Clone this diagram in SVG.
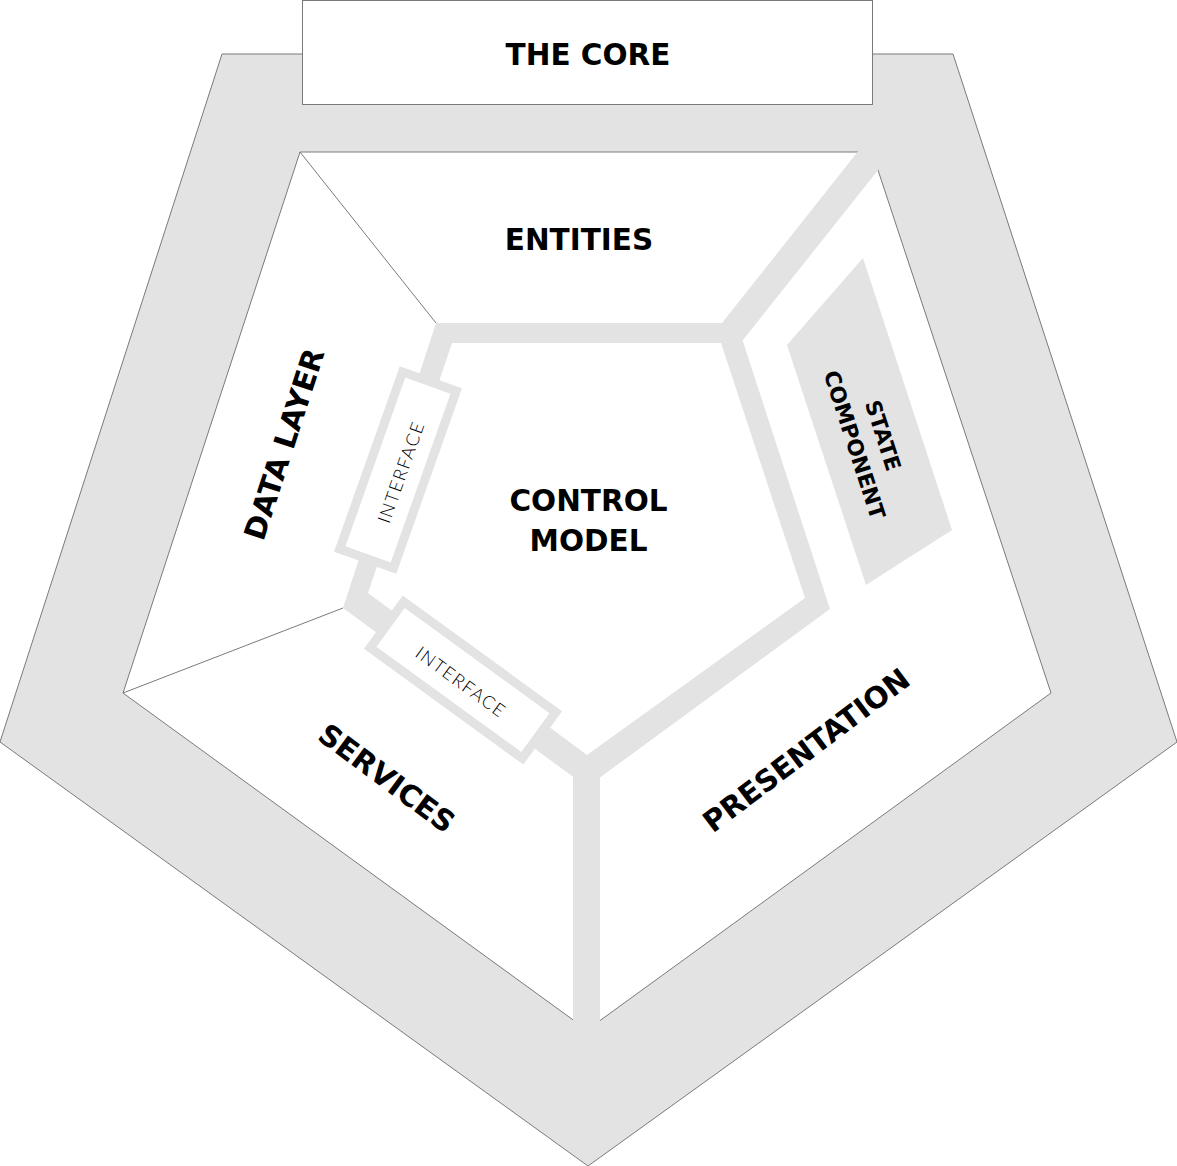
<svg xmlns="http://www.w3.org/2000/svg" width="1177" height="1166" viewBox="0 0 1177 1166">
<style>
.band{fill:#e3e3e3;stroke:#7a7a7a;stroke-width:1}
.inner{fill:#fff;stroke:#7a7a7a;stroke-width:1}
.thin{stroke:#7a7a7a;stroke-width:1;fill:none}
.grey{fill:#e3e3e3}
.iface{fill:#fff;stroke:#e3e3e3;stroke-width:9}
.lbl{font-family:"DejaVu Sans","Liberation Sans",sans-serif;font-weight:bold;font-size:29.5px;fill:#000;text-anchor:middle}
.sc{font-size:21.5px}
.small{font-family:Lato,"Open Sans",sans-serif;font-weight:300;font-size:18px;letter-spacing:1.5px;fill:#000;text-anchor:middle}
</style>
<rect width="1177" height="1166" fill="#fff"/>
<g id="outer-band">
<polygon class="band" points="222,54 953,54 1177,742 588,1166 0,742"/>
</g>
<g id="core">
<rect class="inner" x="302.5" y="0.5" width="570" height="104"/>
<text class="lbl" x="588" y="54" dy="0.36em" font-size="30">THE CORE</text>
</g>
<g id="layers-area">
<polygon class="inner" points="300,152 872,152 1051,693 587,1030 123,693"/>
</g>
<g id="connectors">
<line class="thin" x1="300" y1="152" x2="436" y2="323"/>
<line class="thin" x1="123" y1="693" x2="343" y2="608"/>
<polygon class="grey" points="722,323 867,140 902,140 743,340"/>
<rect class="grey" x="573" y="770" width="27" height="275"/>
</g>
<g id="control-model">
<path class="grey" fill-rule="evenodd" d="M436,323 L737,323 L830,609 L587,787 L343,608 Z M452,343 L368,593 L587,755 L805,598 L721,343 Z"/>
<text class="lbl" x="588.5" y="500" dy="0.36em">CONTROL</text>
<text class="lbl" x="588.5" y="540" dy="0.36em">MODEL</text>
</g>
<g id="interface-1">
<rect class="iface" x="-28.5" y="-94" width="57" height="188" transform="translate(398,470) rotate(19.5)"/>
<text class="small" transform="translate(401,472) rotate(-70.5)" dy="0.36em">INTERFACE</text>
</g>
<g id="interface-2">
<rect class="iface" x="-94" y="-28.5" width="188" height="57" transform="translate(463,680) rotate(36)"/>
<text class="small" transform="translate(461,682) rotate(36)" dy="0.36em">INTERFACE</text>
</g>
<g id="entities">
<text class="lbl" x="579" y="239.5" dy="0.36em">ENTITIES</text>
</g>
<g id="data-layer">
<text class="lbl" transform="translate(284,444) rotate(-72)" dy="0.36em" font-size="30.5">DATA LAYER</text>
</g>
<g id="services">
<text class="lbl" transform="translate(387,778) rotate(36.5)" dy="0.36em">SERVICES</text>
</g>
<g id="presentation">
<text class="lbl" transform="translate(806,750) rotate(-37)" dy="0.36em" font-size="30.5">PRESENTATION</text>
</g>
<g id="state-component">
<polygon class="grey" points="863,258 952,530 866,585 787,345"/>
<g transform="translate(869,440) rotate(72)">
<text class="lbl sc" x="0" y="-15" dy="0.36em">STATE</text>
<text class="lbl sc" x="0" y="15" dy="0.36em">COMPONENT</text>
</g>
</g>
</svg>
